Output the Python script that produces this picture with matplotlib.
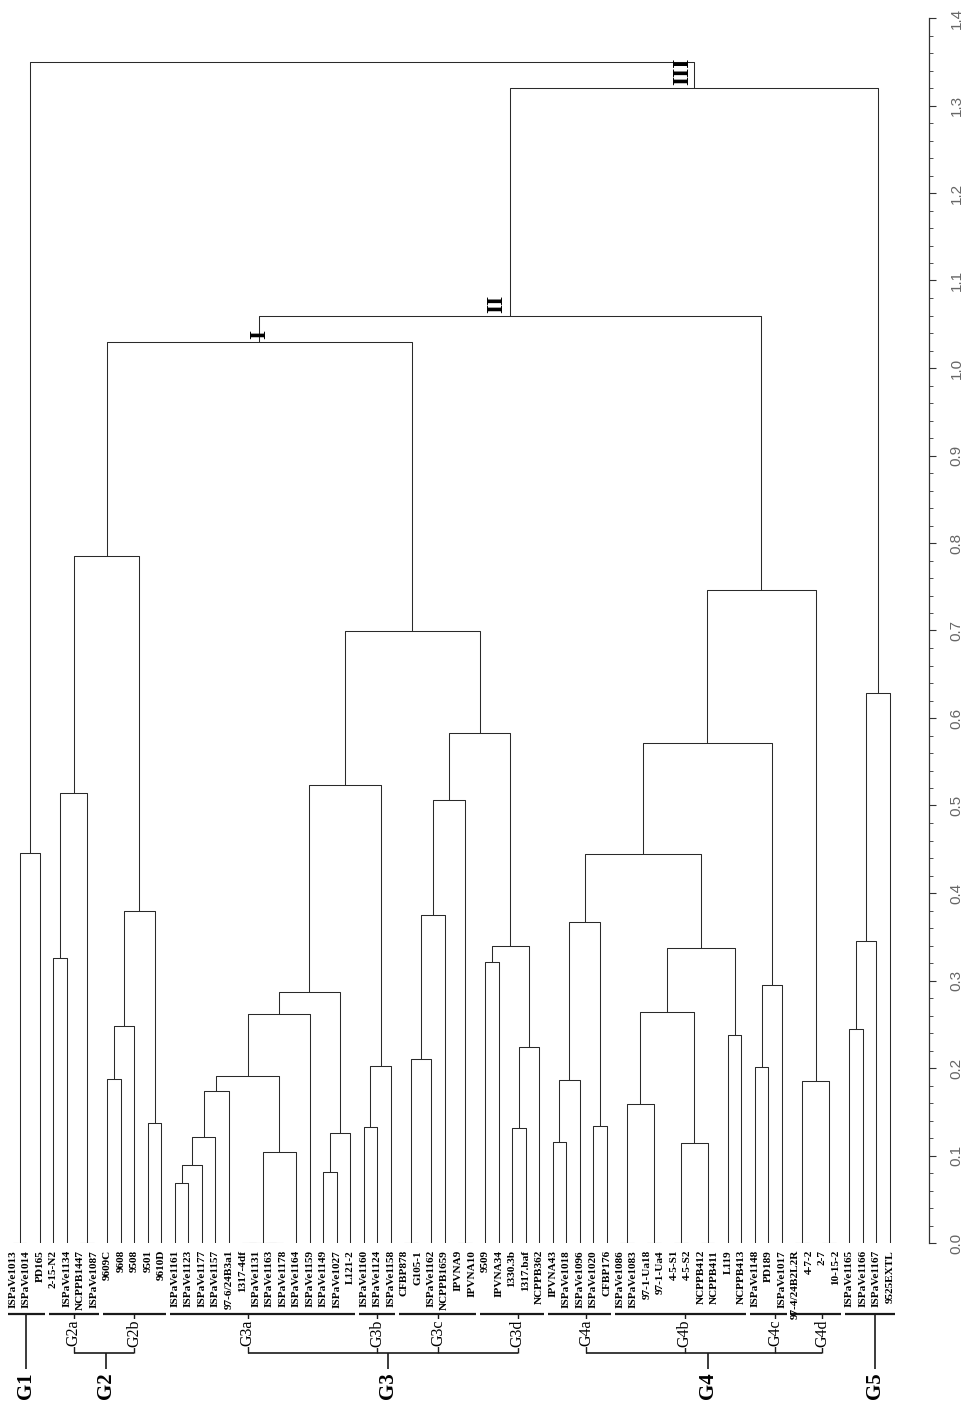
import matplotlib
matplotlib.use("Agg")
from matplotlib import pyplot as plt
from matplotlib.ticker import MultipleLocator

## leaf labels, left to right
strains = ["ISPaVe1013", "ISPaVe1014", "PD165",
           "2-15-N2", "ISPaVe1134", "NCPPB1447", "ISPaVe1087",
           "9609C", "9608", "9508", "9501", "9610D",
           "ISPaVe1161", "ISPaVe1123", "ISPaVe1177", "ISPaVe1157", "97-6/24B3a1",
           "1317-4df", "ISPaVe1131", "ISPaVe1163", "ISPaVe1178", "ISPaVe1164",
           "ISPaVe1159", "ISPaVe1149", "ISPaVe1027", "L121-2",
           "ISPaVe1160", "ISPaVe1124", "ISPaVe1158",
           "CFBP878", "G105-1", "ISPaVe1162", "NCPPB1659", "IPVNA9", "IPVNA10",
           "9509", "IPVNA34", "1330.3b", "1317.baf", "NCPPB362",
           "IPVNA43", "ISPaVe1018", "ISPaVe1096", "ISPaVe1020", "CFBP176",
           "ISPaVe1086", "ISPaVe1083", "97-1-Ua18", "97-1-Ua4", "4-5-S1", "4-5-S2",
           "NCPPB412", "NCPPB411", "L119", "NCPPB413",
           "ISPaVe1148", "PD189", "ISPaVe1017",
           "97-4/24B2L2R", "4-7-2", "2-7", "10-15-2",
           "ISPaVe1165", "ISPaVe1166", "ISPaVe1167", "9525EXTL"]

## linkage: (child a, child b, height); new cluster ids start at len(strains)
links = [
    (0, 1, 0.0), (66, 2, 0.446),                                   # 66,67  G1
    (3, 4, 0.326), (5, 6, 0.0), (68, 69, 0.514),                   # 68-70  G2a
    (7, 8, 0.187), (71, 9, 0.248), (10, 11, 0.137), (72, 73, 0.379),  # 71-74 G2b
    (70, 74, 0.785),                                               # 75     G2
    (12, 13, 0.069), (76, 14, 0.089), (77, 15, 0.121), (78, 16, 0.174),  # 76-79
    (17, 18, 0.0), (19, 20, 0.0), (80, 81, 0.0), (82, 21, 0.104),  # 80-83
    (79, 83, 0.191), (84, 22, 0.262),                              # 84,85
    (23, 24, 0.081), (86, 25, 0.126), (85, 87, 0.287),             # 86-88  G3a
    (26, 27, 0.133), (89, 28, 0.202),                              # 89,90  G3b
    (88, 90, 0.523),                                               # 91
    (29, 30, 0.0), (92, 31, 0.210), (93, 32, 0.375), (33, 34, 0.0),
    (94, 95, 0.506),                                               # 92-96  G3c
    (35, 36, 0.321), (37, 38, 0.131), (98, 39, 0.224), (97, 99, 0.340),  # 97-100 G3d
    (96, 100, 0.583), (91, 101, 0.700),                            # 101,102 G3
    (75, 102, 1.030),                                              # 103    I
    (40, 41, 0.115), (104, 42, 0.186), (43, 44, 0.134), (105, 106, 0.367),  # 104-107 G4a
    (45, 46, 0.0), (47, 48, 0.0), (108, 109, 0.159),               # 108-110
    (49, 50, 0.0), (51, 52, 0.0), (111, 112, 0.114),               # 111-113
    (110, 113, 0.264), (53, 54, 0.238), (114, 115, 0.337),         # 114-116 G4b
    (107, 116, 0.445),                                             # 117
    (55, 56, 0.201), (118, 57, 0.295),                             # 118,119 G4c
    (117, 119, 0.571),                                             # 120
    (58, 59, 0.0), (60, 61, 0.0), (121, 122, 0.185),               # 121-123 G4d
    (120, 123, 0.746),                                             # 124    G4
    (103, 124, 1.060),                                             # 125    II
    (62, 63, 0.245), (126, 64, 0.345), (127, 65, 0.629),           # 126-128 G5
    (125, 128, 1.320),                                             # 129    III
    (67, 129, 1.350),                                              # 130    root
]

## group brackets under the labels
sub_names = ["G2a", "G2b", "G3a", "G3b", "G3c", "G3d", "G4a", "G4b", "G4c", "G4d"]
sub_first = [3, 7, 12, 26, 29, 35, 40, 45, 55, 58]
sub_last = [6, 11, 25, 28, 34, 39, 44, 54, 57, 61]
sub_at = [4.5, 9.0, 17.4, 27.0, 31.5, 37.4, 42.5, 49.8, 56.5, 60.0]

main_names = ["G1", "G2", "G3", "G4", "G5"]
main_at = [1.0, 6.9, 27.8, 51.5, 63.9]
main_subs = [[], ["G2a", "G2b"], ["G3a", "G3b", "G3c", "G3d"],
             ["G4a", "G4b", "G4c", "G4d"], []]
main_first = [0, None, None, None, 62]   # direct brackets for G1 and G5
main_last = [2, None, None, None, 65]

## roman numeral node labels (cluster id)
node_marks = [("I", 103), ("II", 125), ("III", 129)]

LC = "#2a2a2a"
SERIF = ["Liberation Serif", "DejaVu Serif"]

fig = plt.figure(figsize=(9.7, 14.08), dpi=100)
## tree axes: leaf index on x, distance on y
ax = fig.add_axes([0.00645, 165 / 1408, 66 * 13.49 / 970, 1225 / 1408])
ax.set_xlim(-0.5, 65.5)
ax.set_ylim(0, 1.4)
ax.axis("off")

n = len(strains)
xs = [float(i) for i in range(n)]
hs = [0.0] * n
for a, b, h in links:
    ax.plot([xs[a], xs[a], xs[b], xs[b]], [hs[a], h, h, hs[b]],
            color=LC, lw=0.75, solid_capstyle="butt")
    xs.append((xs[a] + xs[b]) / 2)
    hs.append(h)

## leaf labels
for i, s in enumerate(strains):
    ax.text(i, -0.008, s, rotation=90, ha="center", va="top",
            family=SERIF, fontweight="bold", fontsize=8.1, clip_on=False)

## roman numerals
for txt, cid in node_marks:
    if txt == "I":
        ax.text(xs[cid], hs[cid] + 0.003, txt, rotation=90, ha="center", va="bottom",
                family=SERIF, fontweight="bold", fontsize=17)
    elif txt == "II":
        ax.text(xs[cid] - 0.25, hs[cid] + 0.003, txt, rotation=90, ha="right", va="bottom",
                family=SERIF, fontweight="bold", fontsize=17)
    else:
        ax.text(xs[cid] - 0.1, hs[cid] + 0.003, txt, rotation=90, ha="right", va="bottom",
                family=SERIF, fontweight="bold", fontsize=17)

## group brackets
y_br = -0.081
y_sub = -0.103
y_conn = -0.126
y_main = -0.148
kw = dict(color="#1a1a1a", clip_on=False, solid_capstyle="butt")

for name, f, l, at in zip(sub_names, sub_first, sub_last, sub_at):
    ax.plot([f - 0.35, l + 0.35], [y_br, y_br], lw=1.6, **kw)
    ax.plot([at, at], [y_br, y_conn], lw=1.0, **kw)
    ax.text(at, y_sub, name, rotation=90, ha="center", va="center", family=SERIF,
            fontsize=11.5, clip_on=False,
            bbox=dict(facecolor="white", edgecolor="none", pad=0.6))

for name, at, subs, f, l in zip(main_names, main_at, main_subs, main_first, main_last):
    if subs:
        px = [sub_at[sub_names.index(s)] for s in subs]
        ax.plot([min(px), max(px)], [y_conn, y_conn], lw=1.2, **kw)
        ax.plot([at, at], [y_conn, y_main + 0.004], lw=1.2, **kw)
    else:
        ax.plot([f - 0.35, l + 0.35], [y_br, y_br], lw=1.6, **kw)
        ax.plot([at, at], [y_br, y_main + 0.004], lw=1.2, **kw)
    ax.text(at, y_main, name, rotation=90, ha="center", va="top", family=SERIF,
            fontweight="bold", fontsize=15, clip_on=False)

## distance scale on the right
ax2 = fig.add_axes([919 / 970, 165 / 1408, 10 / 970, 1225 / 1408])
ax2.set_ylim(0, 1.4)
ax2.patch.set_visible(False)
for sp in ["left", "top", "bottom"]:
    ax2.spines[sp].set_visible(False)
ax2.spines["right"].set_color("#333333")
ax2.spines["right"].set_linewidth(0.9)
ax2.set_xticks([])
ax2.yaxis.tick_right()
ax2.yaxis.set_major_locator(MultipleLocator(0.1))
ax2.yaxis.set_minor_locator(MultipleLocator(0.02))
ax2.tick_params(axis="y", which="major", direction="out", length=5, width=0.8,
                color="#333333", labelrotation=90, labelsize=11, labelcolor="#666666",
                pad=10)
ax2.tick_params(axis="y", which="minor", direction="out", length=3, width=0.6,
                color="#333333")
ax2.set_yticklabels([f"{v:.1f}" for v in ax2.get_yticks()], family="Liberation Sans",
                    va="center")

fig.savefig("out.png", dpi=100, facecolor="white")
